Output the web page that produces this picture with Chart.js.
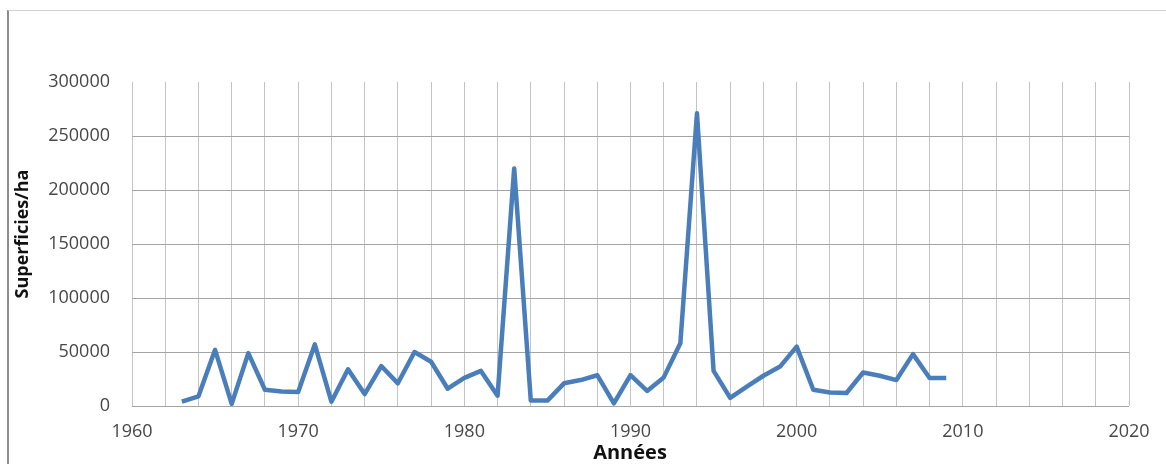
<!DOCTYPE html>
<html lang="fr">
<head>
<meta charset="utf-8">
<title>Superficies par année</title>
<script src="https://cdn.jsdelivr.net/npm/chart.js@4.4.1/dist/chart.umd.min.js"></script>
<style>
  html, body { margin: 0; padding: 0; background: #fff; }
  #wrap { position: relative; width: 1166px; height: 464px; overflow: hidden; }
  #frame {
    position: absolute; left: 7px; top: 10px; right: -2px; bottom: -2px;
    border-left: 2px solid #8c8c8c; border-top: 1px solid #d2d2d2;
  }
  canvas { position: absolute; left: 0; top: 0; }
</style>
</head>
<body>
<div id="wrap">
  <div id="frame"></div>
  <canvas id="chart" width="1166" height="464"></canvas>
</div>
<script>
// Années observées
const years = [
  1963, 1964, 1965, 1966, 1967, 1968, 1969, 1970, 1971, 1972,
  1973, 1974, 1975, 1976, 1977, 1978, 1979, 1980, 1981, 1982,
  1983, 1984, 1985, 1986, 1987, 1988, 1989, 1990, 1991, 1992,
  1993, 1994, 1995, 1996, 1997, 1998, 1999, 2000, 2001, 2002,
  2003, 2004, 2005, 2006, 2007, 2008, 2009
];

// Superficies (ha) pour chaque année
const superficies = [
  4000, 9000, 52000, 2000, 49000, 15000, 13500, 13000, 57000, 4000,
  34000, 11000, 37000, 21000, 50000, 41000, 16000, 26000, 32500, 9500,
  220000, 5000, 5000, 21000, 24000, 28500, 2500, 28500, 14000, 26500,
  58000, 271000, 32500, 7500, 18000, 28000, 36500, 55000, 15000, 12500,
  12000, 31000, 28000, 24000, 48000, 26000, 26000
];

// Bornes et pas des axes
const xRange = [1960, 2020];
const xGridStep = 2;
const xLabelEvery = 10;
const yRange = [0, 300000];
const yStep = 50000;

const xTitle = 'Années';
const yTitle = 'Superficies/ha';

Chart.defaults.font.family = "'Open Sans', 'DejaVu Sans', sans-serif";

// Titres des axes dessinés à position fixe
const axisTitles = {
  id: 'axisTitles',
  afterDraw(chart) {
    const ctx = chart.ctx;
    ctx.save();
    ctx.fillStyle = '#111111';
    ctx.textAlign = 'center';
    ctx.textBaseline = 'middle';
    ctx.font = "bold 20px 'Open Sans', sans-serif";
    ctx.fillText(xTitle, 630, 453);
    ctx.translate(23, 234);
    ctx.rotate(-Math.PI / 2);
    ctx.font = "bold 18px 'Open Sans', sans-serif";
    ctx.fillText(yTitle, 0, 0);
    ctx.restore();
  }
};

new Chart(document.getElementById('chart'), {
  type: 'line',
  data: {
    datasets: [{
      data: years.map((y, i) => ({ x: y, y: superficies[i] })),
      borderColor: '#4a7ebb',
      borderWidth: 4.5,
      borderJoinStyle: 'round',
      borderCapStyle: 'butt',
      tension: 0,
      pointRadius: 0,
      fill: false
    }]
  },
  options: {
    responsive: false,
    animation: false,
    events: [],
    layout: { padding: { left: 0, right: 37, top: 82, bottom: 0 } },
    plugins: { legend: { display: false }, tooltip: { enabled: false } },
    scales: {
      x: {
        type: 'linear',
        min: xRange[0],
        max: xRange[1],
        border: { display: false },
        grid: { color: '#c4c4c4', lineWidth: 1, drawTicks: false },
        ticks: {
          stepSize: xGridStep,
          autoSkip: false,
          maxRotation: 0,
          padding: 15,
          color: '#474747',
          font: { size: 18 },
          callback: v => (v % xLabelEvery === 0 ? String(v) : '')
        },
        afterFit: s => { s.height = 58; }
      },
      y: {
        min: yRange[0],
        max: yRange[1],
        border: { display: false },
        grid: {
          color: ctx => (ctx.tick && ctx.tick.value === yRange[1] ? 'rgba(0,0,0,0)' : '#a4a4a4'),
          lineWidth: 1,
          drawTicks: false
        },
        ticks: {
          stepSize: yStep,
          padding: 22,
          color: '#474747',
          font: { size: 18 },
          callback: v => String(v)
        },
        afterFit: s => { s.width = 132; }
      }
    }
  },
  plugins: [axisTitles]
});
</script>
</body>
</html>
